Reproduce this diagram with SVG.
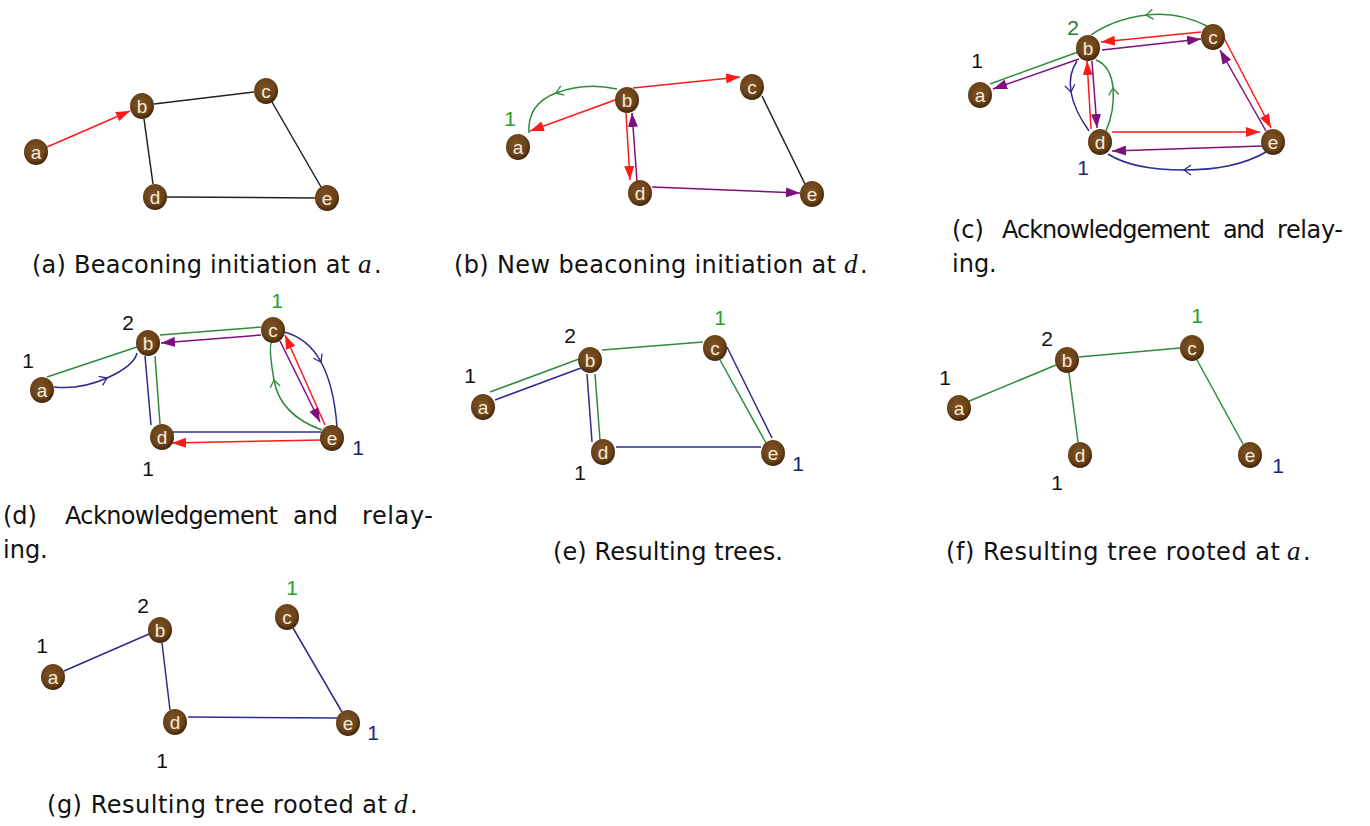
<svg xmlns="http://www.w3.org/2000/svg" width="1370" height="826" viewBox="0 0 1370 826">
<defs>
<radialGradient id="ng" cx="0.45" cy="0.4" r="0.6">
<stop offset="0" stop-color="#7d5226"/>
<stop offset="0.7" stop-color="#6a4218"/>
<stop offset="1" stop-color="#3e260c"/>
</radialGradient>
<marker id="ar" viewBox="0 0 14 10" refX="14" refY="5" markerWidth="14" markerHeight="10" markerUnits="userSpaceOnUse" orient="auto"><path d="M0,0 L14,5 L0,10 z" fill="#ff1a1a"/></marker>
<marker id="ap" viewBox="0 0 14 10" refX="14" refY="5" markerWidth="14" markerHeight="10" markerUnits="userSpaceOnUse" orient="auto"><path d="M0,0 L14,5 L0,10 z" fill="#7f0f7f"/></marker>
<marker id="cg" viewBox="-8 -6 10 12" refX="0" refY="0" markerWidth="10" markerHeight="12" markerUnits="userSpaceOnUse" orient="auto"><path d="M-7,-5 L0,0 L-7,5" fill="none" stroke="#2e8b3e" stroke-width="1.3"/></marker>
<marker id="cb" viewBox="-8 -6 10 12" refX="0" refY="0" markerWidth="10" markerHeight="12" markerUnits="userSpaceOnUse" orient="auto"><path d="M-7,-5 L0,0 L-7,5" fill="none" stroke="#2b2b8f" stroke-width="1.3"/></marker>
</defs>
<style>
.n{fill:url(#ng);}
.nl{font-family:"Liberation Sans",Arial,sans-serif;font-size:19px;fill:#f6ead8;text-anchor:middle;}
.num{font-family:"Liberation Sans",Arial,sans-serif;font-size:21px;text-anchor:middle;}
.k{fill:#111;}
.gn{fill:#2aa12a;}
.gd{fill:#1e7e2e;}
.bl{fill:#1a237e;}
.e{fill:none;stroke-width:1.5;}
.bk{stroke:#222;}
.r{stroke:#ff1a1a;marker-end:url(#ar);}
.p{stroke:#7f0f7f;marker-end:url(#ap);}
.g{stroke:#2e8b3e;}
.b{stroke:#2b2b8f;}
.gc{stroke:#2e8b3e;marker-mid:url(#cg);}
.bc{stroke:#2b2b8f;marker-mid:url(#cb);}
.cap{font-family:"DejaVu Sans","Open Sans",sans-serif;font-size:24px;fill:#111;}
.m{font-family:"Liberation Serif","Times New Roman",serif;font-style:italic;font-size:27px;fill:#111;}
</style>
<rect width="1370" height="826" fill="#ffffff"/>

<!-- Panel a -->
<g id="panel-a">
<g id="pa-connectors">
<line class="e bk" x1="154" y1="104" x2="254" y2="92"/>
<line class="e bk" x1="144" y1="119" x2="153" y2="184"/>
<line class="e bk" x1="167" y1="197" x2="315" y2="198"/>
<line class="e bk" x1="272" y1="102" x2="321" y2="187"/>
<line class="e r" x1="47" y1="147" x2="130" y2="111"/>
</g>
<g id="pa-a"><ellipse class="n" cx="36" cy="152" rx="12" ry="13"/><text class="nl" x="36" y="158.5">a</text></g>
<g id="pa-b"><ellipse class="n" cx="142" cy="106" rx="12" ry="13"/><text class="nl" x="142" y="112.5">b</text></g>
<g id="pa-c"><ellipse class="n" cx="266" cy="91" rx="12" ry="13"/><text class="nl" x="266" y="97.5">c</text></g>
<g id="pa-d"><ellipse class="n" cx="155" cy="197" rx="12" ry="13"/><text class="nl" x="155" y="203.5">d</text></g>
<g id="pa-e"><ellipse class="n" cx="327" cy="198" rx="12" ry="13"/><text class="nl" x="327" y="204.5">e</text></g>
</g>

<!-- Panel b -->
<g id="panel-b">
<g id="pb-connectors">
<path class="e gc" d="M617,89 Q585,82 556,93 T529,133"/>
<line class="e r" x1="615" y1="100" x2="530" y2="131"/>
<line class="e r" x1="633" y1="88" x2="740" y2="77"/>
<line class="e r" x1="626" y1="113" x2="630" y2="180"/>
<line class="e p" x1="637" y1="181" x2="632" y2="113"/>
<line class="e p" x1="652" y1="187" x2="800" y2="193"/>
<line class="e bk" x1="762" y1="96" x2="805" y2="184"/>
</g>
<g id="pb-a"><ellipse class="n" cx="518" cy="147" rx="12" ry="13"/><text class="nl" x="518" y="153.5">a</text><text class="num gn" x="510" y="126">1</text></g>
<g id="pb-b"><ellipse class="n" cx="627" cy="100" rx="12" ry="13"/><text class="nl" x="627" y="106.5">b</text></g>
<g id="pb-c"><ellipse class="n" cx="752" cy="87" rx="12" ry="13"/><text class="nl" x="752" y="93.5">c</text></g>
<g id="pb-d"><ellipse class="n" cx="640" cy="193" rx="12" ry="13"/><text class="nl" x="640" y="199.5">d</text></g>
<g id="pb-e"><ellipse class="n" cx="812" cy="194" rx="12" ry="13"/><text class="nl" x="812" y="200.5">e</text></g>
</g>

<!-- Panel c -->
<g id="panel-c">
<g id="pc-connectors">
<line class="e g" x1="990" y1="84" x2="1078" y2="52"/>
<line class="e p" x1="1079" y1="59" x2="993" y2="89"/>
<path class="e gc" d="M1207,26 Q1178,11 1146,15 T1091,35"/>
<line class="e r" x1="1201" y1="32" x2="1101" y2="42"/>
<line class="e p" x1="1102" y1="50" x2="1201" y2="39"/>
<line class="e r" x1="1224" y1="38" x2="1271" y2="128"/>
<line class="e p" x1="1266" y1="131" x2="1220" y2="50"/>
<path class="e bc" d="M1077,61 Q1068,74 1071,92 T1089,131"/>
<line class="e r" x1="1091" y1="129" x2="1087" y2="61"/>
<line class="e p" x1="1092" y1="61" x2="1097" y2="128"/>
<path class="e gc" d="M1106,131 Q1115,110 1113,88 T1096,60"/>
<line class="e r" x1="1112" y1="132" x2="1260" y2="132"/>
<line class="e p" x1="1262" y1="146" x2="1112" y2="151"/>
<path class="e bc" d="M1266,152 Q1235,170 1184,170 T1108,154"/>
</g>
<g id="pc-a"><ellipse class="n" cx="980" cy="95" rx="12" ry="13"/><text class="nl" x="980" y="101.5">a</text><text class="num k" x="977" y="68">1</text></g>
<g id="pc-b"><ellipse class="n" cx="1088" cy="48" rx="12" ry="13"/><text class="nl" x="1088" y="54.5">b</text><text class="num gd" x="1073" y="35">2</text></g>
<g id="pc-c"><ellipse class="n" cx="1213" cy="37" rx="12" ry="13"/><text class="nl" x="1213" y="43.5">c</text></g>
<g id="pc-d"><ellipse class="n" cx="1100" cy="142" rx="12" ry="13"/><text class="nl" x="1100" y="148.5">d</text><text class="num bl" x="1083" y="175">1</text></g>
<g id="pc-e"><ellipse class="n" cx="1273" cy="142" rx="12" ry="13"/><text class="nl" x="1273" y="148.5">e</text></g>
</g>

<!-- Panel d -->
<g id="panel-d">
<g id="pd-connectors">
<line class="e g" x1="47" y1="377" x2="137" y2="347"/>
<path class="e bc" d="M54,387 Q80,390 107,378 T137,353"/>
<line class="e g" x1="160" y1="335" x2="261" y2="327"/>
<line class="e p" x1="261" y1="335" x2="161" y2="343"/>
<line class="e b" x1="145" y1="356" x2="151" y2="425"/>
<line class="e g" x1="155" y1="356" x2="160" y2="424"/>
<line class="e b" x1="173" y1="432" x2="321" y2="432"/>
<line class="e r" x1="321" y1="440" x2="172" y2="443"/>
<path class="e bc" d="M284,332 Q308,338 321,362 T337,427"/>
<line class="e r" x1="325" y1="425" x2="285" y2="335"/>
<line class="e p" x1="280" y1="341" x2="320" y2="422"/>
<path class="e gc" d="M322,430 Q280,415 274,380 T272,342"/>
</g>
<g id="pd-a"><ellipse class="n" cx="42" cy="390" rx="12" ry="13"/><text class="nl" x="42" y="396.5">a</text><text class="num k" x="28" y="368">1</text></g>
<g id="pd-b"><ellipse class="n" cx="148" cy="343" rx="12" ry="13"/><text class="nl" x="148" y="349.5">b</text><text class="num k" x="128" y="330">2</text></g>
<g id="pd-c"><ellipse class="n" cx="273" cy="330" rx="12" ry="13"/><text class="nl" x="273" y="336.5">c</text><text class="num gn" x="277" y="308">1</text></g>
<g id="pd-d"><ellipse class="n" cx="162" cy="437" rx="12" ry="13"/><text class="nl" x="162" y="443.5">d</text><text class="num k" x="148" y="476">1</text></g>
<g id="pd-e"><ellipse class="n" cx="332" cy="438" rx="12" ry="13"/><text class="nl" x="332" y="444.5">e</text><text class="num bl" x="358" y="455">1</text></g>
</g>

<!-- Panel e -->
<g id="panel-e">
<g id="pe-connectors">
<line class="e g" x1="490" y1="392" x2="579" y2="359"/>
<line class="e b" x1="495" y1="400" x2="581" y2="368"/>
<line class="e g" x1="602" y1="350" x2="703" y2="342"/>
<line class="e b" x1="587" y1="374" x2="592" y2="442"/>
<line class="e g" x1="595" y1="374" x2="600" y2="440"/>
<line class="e b" x1="616" y1="447" x2="761" y2="447"/>
<line class="e g" x1="720" y1="360" x2="766" y2="443"/>
<line class="e b" x1="727" y1="347" x2="772" y2="438"/>
</g>
<g id="pe-a"><ellipse class="n" cx="483" cy="407" rx="12" ry="13"/><text class="nl" x="483" y="413.5">a</text><text class="num k" x="470" y="383">1</text></g>
<g id="pe-b"><ellipse class="n" cx="590" cy="360" rx="12" ry="13"/><text class="nl" x="590" y="366.5">b</text><text class="num k" x="570" y="343">2</text></g>
<g id="pe-c"><ellipse class="n" cx="715" cy="348" rx="12" ry="13"/><text class="nl" x="715" y="354.5">c</text><text class="num gn" x="720" y="325">1</text></g>
<g id="pe-d"><ellipse class="n" cx="603" cy="452" rx="12" ry="13"/><text class="nl" x="603" y="458.5">d</text><text class="num k" x="580" y="480">1</text></g>
<g id="pe-e"><ellipse class="n" cx="773" cy="453" rx="12" ry="13"/><text class="nl" x="773" y="459.5">e</text><text class="num bl" x="798" y="471">1</text></g>
</g>

<!-- Panel f -->
<g id="panel-f">
<g id="pf-connectors">
<line class="e g" x1="967" y1="402" x2="1056" y2="365"/>
<line class="e g" x1="1079" y1="357" x2="1180" y2="348"/>
<line class="e g" x1="1069" y1="373" x2="1078" y2="442"/>
<line class="e g" x1="1197" y1="360" x2="1243" y2="444"/>
</g>
<g id="pf-a"><ellipse class="n" cx="959" cy="408" rx="12" ry="13"/><text class="nl" x="959" y="414.5">a</text><text class="num k" x="945" y="385">1</text></g>
<g id="pf-b"><ellipse class="n" cx="1067" cy="360" rx="12" ry="13"/><text class="nl" x="1067" y="366.5">b</text><text class="num k" x="1047" y="346">2</text></g>
<g id="pf-c"><ellipse class="n" cx="1192" cy="348" rx="12" ry="13"/><text class="nl" x="1192" y="354.5">c</text><text class="num gn" x="1197" y="323">1</text></g>
<g id="pf-d"><ellipse class="n" cx="1080" cy="455" rx="12" ry="13"/><text class="nl" x="1080" y="461.5">d</text><text class="num k" x="1057" y="490">1</text></g>
<g id="pf-e"><ellipse class="n" cx="1250" cy="455" rx="12" ry="13"/><text class="nl" x="1250" y="461.5">e</text><text class="num bl" x="1278" y="473">1</text></g>
</g>

<!-- Panel g -->
<g id="panel-g">
<g id="pg-connectors">
<line class="e b" x1="64" y1="671" x2="149" y2="634"/>
<line class="e b" x1="162" y1="643" x2="170" y2="710"/>
<line class="e b" x1="188" y1="717" x2="337" y2="718"/>
<line class="e b" x1="293" y1="628" x2="342" y2="712"/>
</g>
<g id="pg-a"><ellipse class="n" cx="53" cy="677" rx="12" ry="13"/><text class="nl" x="53" y="683.5">a</text><text class="num k" x="42" y="653">1</text></g>
<g id="pg-b"><ellipse class="n" cx="160" cy="630" rx="12" ry="13"/><text class="nl" x="160" y="636.5">b</text><text class="num k" x="143" y="613">2</text></g>
<g id="pg-c"><ellipse class="n" cx="287" cy="617" rx="12" ry="13"/><text class="nl" x="287" y="623.5">c</text><text class="num gn" x="292" y="595">1</text></g>
<g id="pg-d"><ellipse class="n" cx="175" cy="722" rx="12" ry="13"/><text class="nl" x="175" y="728.5">d</text><text class="num k" x="162" y="768">1</text></g>
<g id="pg-e"><ellipse class="n" cx="348" cy="723" rx="12" ry="13"/><text class="nl" x="348" y="729.5">e</text><text class="num bl" x="373" y="740">1</text></g>
</g>

<!-- Captions -->
<g id="captions">
<text class="cap" x="32" y="273" textLength="318">(a) Beaconing initiation at</text>
<text class="m" x="358" y="273">a</text><text class="cap" x="374" y="273">.</text>

<text class="cap" x="454" y="273" textLength="382">(b) New beaconing initiation at</text>
<text class="m" x="844" y="273">d</text><text class="cap" x="860" y="273">.</text>

<text class="cap" x="952" y="238">(c)</text>
<text class="cap" x="1002" y="238" textLength="208">Acknowledgement</text>
<text class="cap" x="1223" y="238" textLength="42">and</text>
<text class="cap" x="1277" y="238" textLength="66">relay-</text>
<text class="cap" x="952" y="272">ing.</text>

<text class="cap" x="3" y="524">(d)</text>
<text class="cap" x="65" y="524" textLength="213">Acknowledgement</text>
<text class="cap" x="293" y="524" textLength="45">and</text>
<text class="cap" x="362" y="524" textLength="71">relay-</text>
<text class="cap" x="3" y="558">ing.</text>

<text class="cap" x="553" y="560" textLength="230">(e) Resulting trees.</text>

<text class="cap" x="946" y="560" textLength="334">(f) Resulting tree rooted at</text>
<text class="m" x="1287" y="560">a</text><text class="cap" x="1303" y="560">.</text>

<text class="cap" x="47" y="813" textLength="340">(g) Resulting tree rooted at</text>
<text class="m" x="394" y="813">d</text><text class="cap" x="410" y="813">.</text>
</g>
</svg>
